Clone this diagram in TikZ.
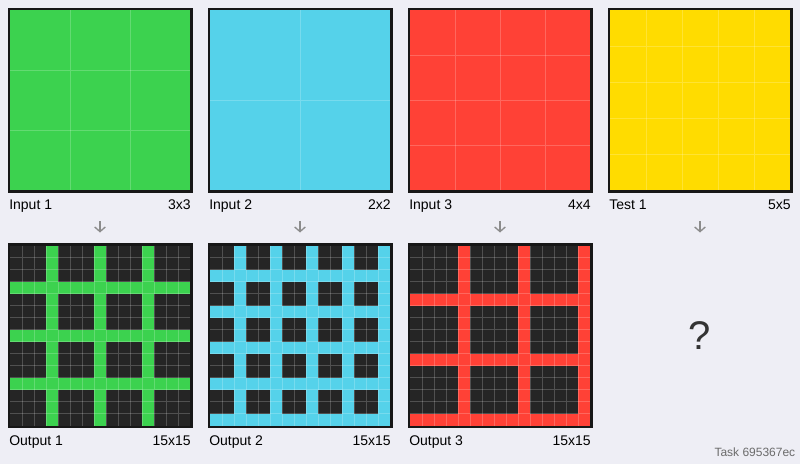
\documentclass[tikz,border=0pt]{standalone}
\usepackage{fontspec}
\setmainfont{Liberation Sans}
\usetikzlibrary{arrows.meta}

\definecolor{pagebg}{HTML}{EEEEF5}
\definecolor{cellbg}{HTML}{252525}
\definecolor{framec}{HTML}{171717}
\definecolor{arcgreen}{HTML}{3CD24F}
\definecolor{arccyan}{HTML}{55D2EA}
\definecolor{arcred}{HTML}{FF4136}
\definecolor{arcyellow}{HTML}{FFDC00}

% input panel: left x, top y, cells, colour
\newcommand{\inpanel}[4]{%
  \fill[framec] (#1-2.5,#2-2.5) rectangle (#1+182.5,#2+182.5);
  \fill[#4] (#1,#2) rectangle (#1+180,#2+180);
  \pgfmathsetmacro\cellsz{180/#3}
  \pgfmathtruncatemacro\nm{#3-1}
  \foreach \k in {1,...,\nm}
    \draw[cellline] (#1+\cellsz*\k,#2) -- ++(0,180) (#1,#2+\cellsz*\k) -- ++(180,0);
}

% output panel (15x15): left x, top y, input size, colour
\newcommand{\outpanel}[4]{%
  \fill[framec] (#1-2.5,#2-2.5) rectangle (#1+182.5,#2+182.5);
  \fill[cellbg] (#1,#2) rectangle (#1+180,#2+180);
  \foreach \i in {0,...,14}{
    \pgfmathtruncatemacro\rem{mod(\i,#3+1)}
    \ifnum\rem=#3
      \fill[#4] (#1+12*\i,#2) rectangle (#1+12*\i+12,#2+180);
      \fill[#4] (#1,#2+12*\i) rectangle (#1+180,#2+12*\i+12);
    \fi
  }
  \foreach \k in {1,...,14}
    \draw[cellline] (#1+12*\k,#2) -- ++(0,180) (#1,#2+12*\k) -- ++(180,0);
}

\begin{document}
\begin{tikzpicture}[x=0.75pt, y=-0.75pt,
    cellline/.style={white, opacity=0.2, line width=0.75pt},
    lbl/.style={font=\fontsize{10.5}{12}\selectfont, text=black, inner sep=0pt},
    flow/.style={draw=gray!90, line width=1pt, -{Straight Barb[length=3.5pt, width=8pt]}}]
  \fill[pagebg] (0,0) rectangle (800,464);

  % top row
  \inpanel{10}{10}{3}{arcgreen}
  \inpanel{210}{10}{2}{arccyan}
  \inpanel{410}{10}{4}{arcred}
  \inpanel{610}{10}{5}{arcyellow}

  \node[lbl, anchor=base west] (in1) at (9,209) {Input 1};
  \node[lbl, anchor=base east] (in1sz) at (191,209) {3x3};
  \node[lbl, anchor=base west] (in2) at (209,209) {Input 2};
  \node[lbl, anchor=base east] (in2sz) at (391,209) {2x2};
  \node[lbl, anchor=base west] (in3) at (409,209) {Input 3};
  \node[lbl, anchor=base east] (in3sz) at (591,209) {4x4};
  \node[lbl, anchor=base west] (test1) at (609,209) {Test 1};
  \node[lbl, anchor=base east] (test1sz) at (791,209) {5x5};

  % arrows
  \foreach \cx [count=\n] in {100,300,500,700}{
    \coordinate (a\n) at (\cx,221);
    \coordinate (b\n) at (\cx,232.5);
    \draw[flow] (a\n) -- (b\n);
  }

  % bottom row
  \outpanel{10}{245.5}{3}{arcgreen}
  \outpanel{210}{245.5}{2}{arccyan}
  \outpanel{410}{245.5}{4}{arcred}

  \node[lbl, anchor=base west] (out1) at (9,445) {Output 1};
  \node[lbl, anchor=base east] (out1sz) at (191,445) {15x15};
  \node[lbl, anchor=base west] (out2) at (209,445) {Output 2};
  \node[lbl, anchor=base east] (out2sz) at (391,445) {15x15};
  \node[lbl, anchor=base west] (out3) at (409,445) {Output 3};
  \node[lbl, anchor=base east] (out3sz) at (591,445) {15x15};

  \node[font=\fontsize{30}{32}\selectfont, text=black!80] (ans) at (700,336) {?};
  \node[anchor=base east, inner sep=0pt, font=\fontsize{9}{10}\selectfont, text=black!58] (task) at (795.5,456.7) {Task 695367ec};
\end{tikzpicture}
\end{document}
